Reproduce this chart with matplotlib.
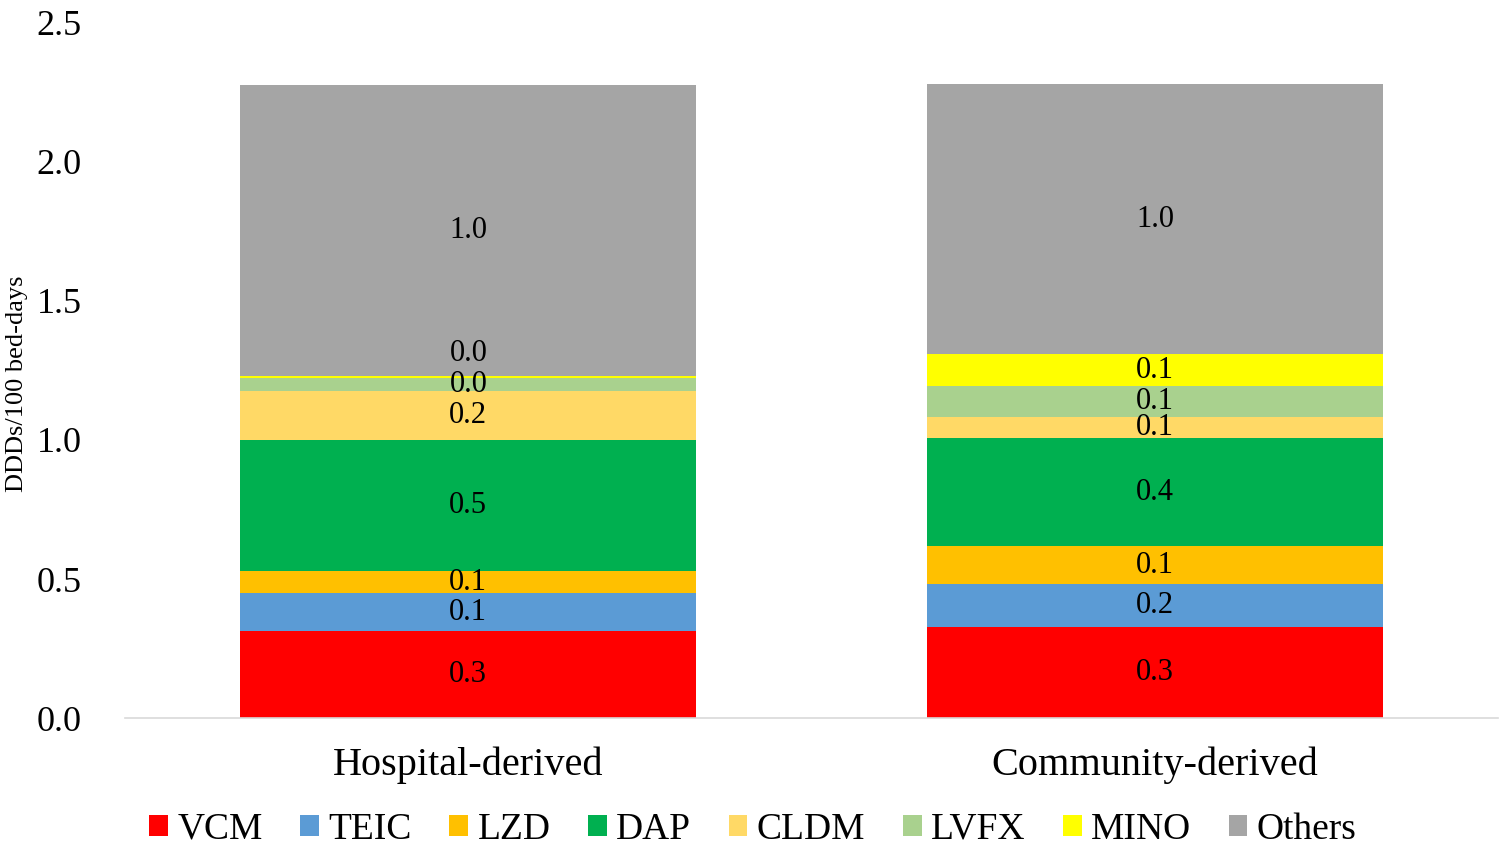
import matplotlib.pyplot as plt
from matplotlib.patches import Patch
import numpy as np

plt.rcParams['font.family'] = ['Liberation Serif', 'DejaVu Serif']

groups = ['Hospital-derived', 'Community-derived']
drugs = ['VCM', 'TEIC', 'LZD', 'DAP', 'CLDM', 'LVFX', 'MINO', 'Others']
colors = ['#FF0000', '#5B9BD5', '#FFC000', '#00B050', '#FFD966', '#A9D18E', '#FFFF00', '#A5A5A5']

# DDDs/100 bed-days
vcm = [0.312, 0.327]
teic = [0.137, 0.154]
lzd = [0.079, 0.137]
dap = [0.470, 0.388]
cldm = [0.176, 0.075]
lvfx = [0.048, 0.111]
mino = [0.006, 0.115]
others = [1.045, 0.969]
series = [vcm, teic, lzd, dap, cldm, lvfx, mino, others]

fig = plt.figure(figsize=(15.06, 8.5), dpi=100)
ax = fig.add_axes([0.083, 0.155, 0.912, 0.819])

x = np.arange(len(groups))
bottom = np.zeros(len(groups))
for name, vals, col in zip(drugs, series, colors):
    vals = np.array(vals)
    ax.bar(x, vals, 0.664, bottom=bottom, color=col, label=name)
    for i in range(len(groups)):
        yc = bottom[i] + vals[i] / 2
        dy = 0
        # tiny segment: label pushed up so it doesn't sit on the next one
        if vals[i] < 0.02:
            dy = 17
        ax.annotate('%.1f' % vals[i], (x[i], yc), xytext=(0, dy),
                    textcoords='offset points', ha='center', va='center',
                    fontsize=22, color='black')
    bottom += vals

ax.set_xlim(-0.5, 1.5)
ax.set_ylim(0, 2.5)
ax.set_yticks(np.arange(0, 2.51, 0.5))
ax.set_yticklabels(['%.1f' % v for v in np.arange(0, 2.51, 0.5)])
ax.set_xticks(x)
ax.set_xticklabels(groups)
ax.tick_params(axis='y', length=0, labelsize=26, pad=31)
ax.tick_params(axis='x', length=0, labelsize=29, pad=20)
for s in ['top', 'right', 'left']:
    ax.spines[s].set_visible(False)
ax.spines['bottom'].set_color('#D9D9D9')
ax.spines['bottom'].set_linewidth(1.2)

ax.set_ylabel('DDDs/100 bed-days', fontsize=19)
ax.yaxis.set_label_coords(-0.0705, 0.48)

handles = [Patch(facecolor=c, edgecolor='none') for c in colors]
fig.legend(handles, drugs, loc='center', bbox_to_anchor=(0.5, 0.024), ncol=8,
           frameon=False, fontsize=27, handlelength=0.5, handleheight=0.5,
           handletextpad=0.25, columnspacing=1.0)

fig.savefig('out.png', dpi=100)
